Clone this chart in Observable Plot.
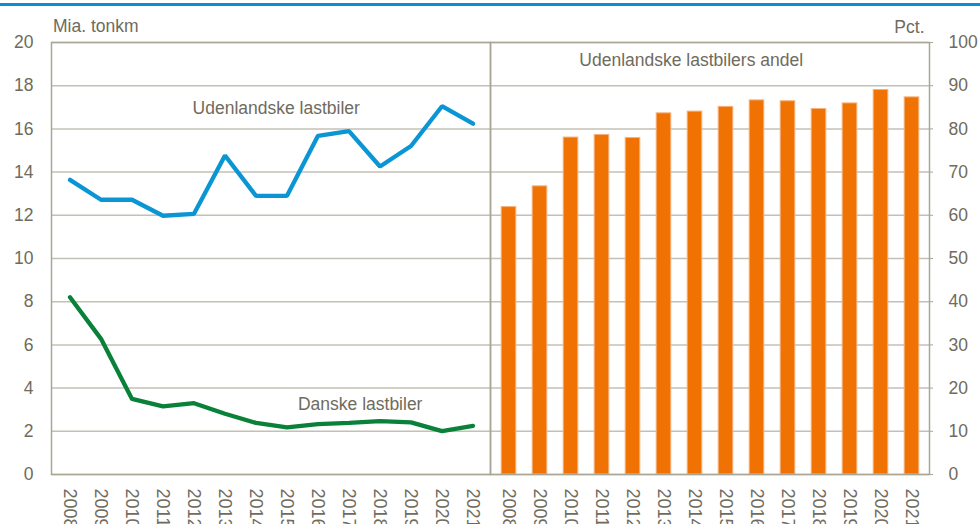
<!DOCTYPE html>
<html><head><meta charset="utf-8">
<script src="https://cdn.jsdelivr.net/npm/d3@7"></script>
<script src="https://cdn.jsdelivr.net/npm/@observablehq/plot@0.6"></script>
<style>
html,body{margin:0;padding:0;background:#fff;}
#chart svg{display:block;}
</style>
</head><body><div id="chart"></div>
<script>
const years = [2008,2009,2010,2011,2012,2013,2014,2015,2016,2017,2018,2019,2020,2021];
const udenlandske = [13.64,12.72,12.72,11.98,12.07,14.77,12.90,12.90,15.68,15.90,14.26,15.21,17.05,16.24];
const danske = [8.21,6.28,3.50,3.15,3.30,2.81,2.39,2.18,2.33,2.39,2.47,2.41,2.01,2.25];
const andel = [61.9,66.7,78.0,78.6,77.9,83.6,84.0,85.1,86.6,86.4,84.6,85.9,89.0,87.3];
const leftTicks = [0,2,4,6,8,10,12,14,16,18,20];
const rightTicks = [0,10,20,30,40,50,60,70,80,90,100];
const seriesNames = ["Udenlandske lastbiler","Danske lastbiler"];
const seriesColors = ["#0a95d4","#0a8139"];
const RATIO = 5; // right axis (Pct., 0-100) vs left axis (Mia. tonkm, 0-20)

const lineData = [];
years.forEach((yr,i) => {
  lineData.push({panel:"L", year:yr, value:udenlandske[i], series:seriesNames[0]});
  lineData.push({panel:"L", year:yr, value:danske[i], series:seriesNames[1]});
});
const barData = years.map((yr,i) => ({panel:"R", year:yr, value:andel[i]}));

const textColor = "#6f6b5d";
const FS = 17.5;
const label = (panel, year, value, text, opts) =>
  Plot.text([{panel, year, value, text}], {fx: "panel", x: "year", y: "value", text: "text", fill: textColor, fontSize: FS, ...opts});

const plot = Plot.plot({
  width: 980, height: 524,
  marginLeft: 51, marginRight: 51, marginTop: 42, marginBottom: 50,
  style: {fontFamily: "'Liberation Sans', Arial, sans-serif", fontSize: "17.5px", color: textColor, background: "#fff", overflow: "visible"},
  fx: {domain: ["L","R"], padding: 0, axis: null},
  x: {domain: years, type: "band", padding: 0},
  y: {domain: [0,20]},
  color: {domain: seriesNames, range: seriesColors},
  marks: [
    Plot.gridY(leftTicks, {stroke: "#c3c0b5", strokeOpacity: 1, strokeWidth: 1.5}),
    Plot.barY(barData, {fx: "panel", x: "year", y: d => d.value / RATIO, fill: "#ef7203", stroke: "#f5b27e", strokeWidth: 1, insetLeft: 8.2, insetRight: 8.2}),
    Plot.line(lineData, {fx: "panel", x: "year", y: "value", z: "series", stroke: "series", strokeWidth: 4.3, strokeLinejoin: "miter"}),
    Plot.frame({stroke: "#a9a696", strokeWidth: 1.5}),
    Plot.axisX({tickRotate: 90, tickSize: 0, tickPadding: 14, tickFormat: d => String(d), label: null, fill: textColor, fontSize: 18}),
    Plot.axisY(leftTicks, {anchor: "left", tickSize: 0, tickPadding: 18, label: null, fill: textColor}),
    Plot.axisY(rightTicks.map(v => v / RATIO), {anchor: "right", tickSize: 3, tickPadding: 16, tickFormat: d => String(Math.round(d * RATIO)), label: null, fill: textColor, stroke: "#a9a696"}),
    label("L", 2014, 16.94, "Udenlandske lastbiler", {dx: 20.2}),
    label("L", 2018, 3.24, "Danske lastbiler", {dx: -19.8}),
    label("R", 2014, 19.17, "Udenlandske lastbilers andel", {dx: -3.8}),
    label("L", 2008, 20, "Mia. tonkm", {textAnchor: "start", dx: -17, dy: -16}),
    label("R", 2021, 20, "Pct.", {textAnchor: "end", dx: 12.5, dy: -15})
  ]
});
d3.select(plot).append("rect").attr("x", 0).attr("y", 3).attr("width", 980).attr("height", 3).attr("fill", "#0a8ed0");
document.getElementById("chart").appendChild(plot);
</script>
</body></html>
